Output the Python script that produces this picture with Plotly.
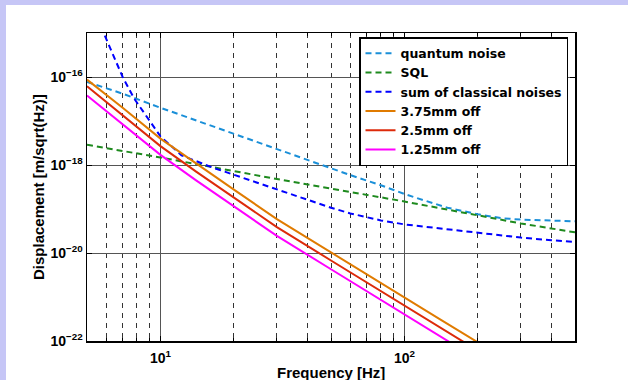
import plotly.graph_objects as go

# ---------------- data ----------------
qn_freq = [5, 7, 10, 20, 30, 40, 50, 60, 80, 100, 120, 150, 200, 250, 300, 400, 500]
qn_vals = [7.76e-17, 4.17e-17, 2.0e-17, 5.13e-18, 2.24e-18, 1.29e-18, 8.32e-19, 5.89e-19,
           3.47e-19, 2.19e-19, 1.58e-19, 1.07e-19, 7.59e-20, 6.17e-20, 5.75e-20, 5.37e-20, 5.25e-20]

sql_freq = [5, 10, 30, 100, 300, 500]
sql_vals = [2.88e-18, 1.48e-18, 4.8e-19, 1.48e-19, 4.7e-20, 2.95e-20]

cls_freq = [5, 5.85, 7, 7.8, 10, 12.2, 16.2, 21.2, 30, 40, 50, 60, 80, 100, 200, 300, 400, 500]
cls_vals = [1e-14, 1e-15, 1e-16, 3.24e-17, 4.47e-18, 1.66e-18, 8.91e-19, 5.37e-19, 2.75e-19,
            1.58e-19, 1.07e-19, 7.94e-20, 5.5e-20, 4.47e-20, 2.82e-20, 2.24e-20, 1.95e-20, 1.78e-20]

off_freq = [5, 7, 10, 14, 20, 30, 50, 70, 100, 140, 200]
off375_vals = [8.71e-17, 2.0e-17, 3.98e-18, 1.07e-18, 2.75e-19, 5.89e-20, 1.02e-20, 3.24e-21,
               9.55e-22, 3.09e-22, 9.3e-23]
off25_vals = [6.17e-17, 1.35e-17, 2.69e-18, 7.08e-19, 1.82e-19, 3.89e-20, 6.76e-21, 2.14e-21,
              6.17e-22, 2.0e-22, 6.03e-23]
off125_vals = [3.80e-17, 8.51e-18, 1.70e-18, 4.47e-19, 1.15e-19, 2.45e-20, 4.27e-21, 1.35e-21,
               3.98e-22, 1.26e-22, 3.80e-23]

x_tickvals = [10, 100]
x_ticktext = ["10<sup>1</sup>", "10<sup>2</sup>"]
x_minorvals = [6, 7, 8, 9, 20, 30, 40, 50, 60, 70, 80, 90, 200, 300, 400]
y_tickvals = [1e-22, 1e-20, 1e-18, 1e-16]
y_ticktext = ["10<sup>\u221222</sup>", "10<sup>\u221220</sup>", "10<sup>\u221218</sup>", "10<sup>\u221216</sup>"]

series = [
    ("quantum noise", qn_freq, qn_vals, "#1a8fd8", "6px,4px"),
    ("SQL", sql_freq, sql_vals, "#1e8a1e", "6px,4px"),
    ("sum of classical noises", cls_freq, cls_vals, "#0000ff", "6px,4px"),
    ("3.75mm off", off_freq, off375_vals, "#e07b00", "solid"),
    ("2.5mm off", off_freq, off25_vals, "#dd2a0a", "solid"),
    ("1.25mm off", off_freq, off125_vals, "#ff00ff", "solid"),
]

# ---------------- figure ----------------
W, H = 628, 380
L, R, T, B = 87, 53, 33, 39
PW, PH = W - L - R, H - T - B
FONT = "Liberation Sans, Arial, Helvetica, sans-serif"
LEGFONT = "DejaVu Sans, Liberation Sans, sans-serif"

fig = go.Figure()
for name, fx, fy, col, dash in series:
    fig.add_trace(go.Scatter(x=fx, y=fy, mode="lines", name=name,
                             line=dict(color=col, width=2, dash=dash)))

def px_x(p):
    return (p - L) / PW

def px_y(p):
    return (H - B - p) / PH

band = "#c6c6f6"
fig.add_shape(type="rect", xref="paper", yref="paper", x0=px_x(0), x1=px_x(6),
              y0=px_y(H), y1=px_y(0), fillcolor=band, line_width=0, layer="below")
fig.add_shape(type="rect", xref="paper", yref="paper", x0=px_x(0), x1=px_x(W),
              y0=px_y(5), y1=px_y(0), fillcolor=band, line_width=0, layer="below")

fig.add_annotation(xref="paper", yref="paper", x=0.5, y=px_y(372), text="Frequency [Hz]",
                   showarrow=False, xanchor="center", yanchor="middle",
                   font=dict(family=FONT, size=15, color="black", weight="bold"))
fig.add_annotation(xref="paper", yref="paper", x=px_x(38), y=0.5, text="Displacement [m/sqrt(Hz)]",
                   showarrow=False, textangle=-90, xanchor="center", yanchor="middle",
                   font=dict(family=FONT, size=15, color="black", weight="bold"))

fig.update_layout(
    width=W, height=H,
    margin=dict(l=L, r=R, t=T, b=B, pad=0),
    paper_bgcolor="white", plot_bgcolor="white",
    font=dict(family=FONT, size=14, color="black", weight="bold"),
    showlegend=True,
    legend=dict(x=px_x(359), y=px_y(37), xanchor="left", yanchor="top",
                bgcolor="white", bordercolor="black", borderwidth=1.5,
                font=dict(family=LEGFONT, size=12.5, color="black", weight="bold"),
                tracegroupgap=0, itemwidth=30),
)

fig.update_xaxes(type="log", range=[0.69897, 2.69897],
                 tickmode="array", tickvals=x_tickvals, ticktext=x_ticktext,
                 ticks="inside", ticklen=5, tickcolor="black",
                 showline=True, linecolor="black", linewidth=1.5, mirror="allticks",
                 showgrid=True, gridcolor="#555555", gridwidth=1,
                 zeroline=False, ticklabelstandoff=4,
                 tickfont=dict(family=FONT, size=14, color="black", weight="bold"),
                 minor=dict(tickmode="array", tickvals=x_minorvals, ticks="inside", ticklen=3,
                            tickcolor="black", showgrid=True, gridcolor="#333333",
                            gridwidth=1, griddash="5px,5px"))
fig.update_yaxes(type="log", range=[-22, -15],
                 tickmode="array", tickvals=y_tickvals, ticktext=y_ticktext,
                 ticks="inside", ticklen=5, tickcolor="black",
                 showline=True, linecolor="black", linewidth=1.5, mirror="allticks",
                 showgrid=True, gridcolor="#555555", gridwidth=1,
                 zeroline=False,
                 tickfont=dict(family=FONT, size=14, color="black", weight="bold"))

fig.write_html("out.html",
               config={"displayModeBar": False, "staticPlot": True},
               post_script="document.body.style.margin='0px';document.body.style.overflow='hidden';")
